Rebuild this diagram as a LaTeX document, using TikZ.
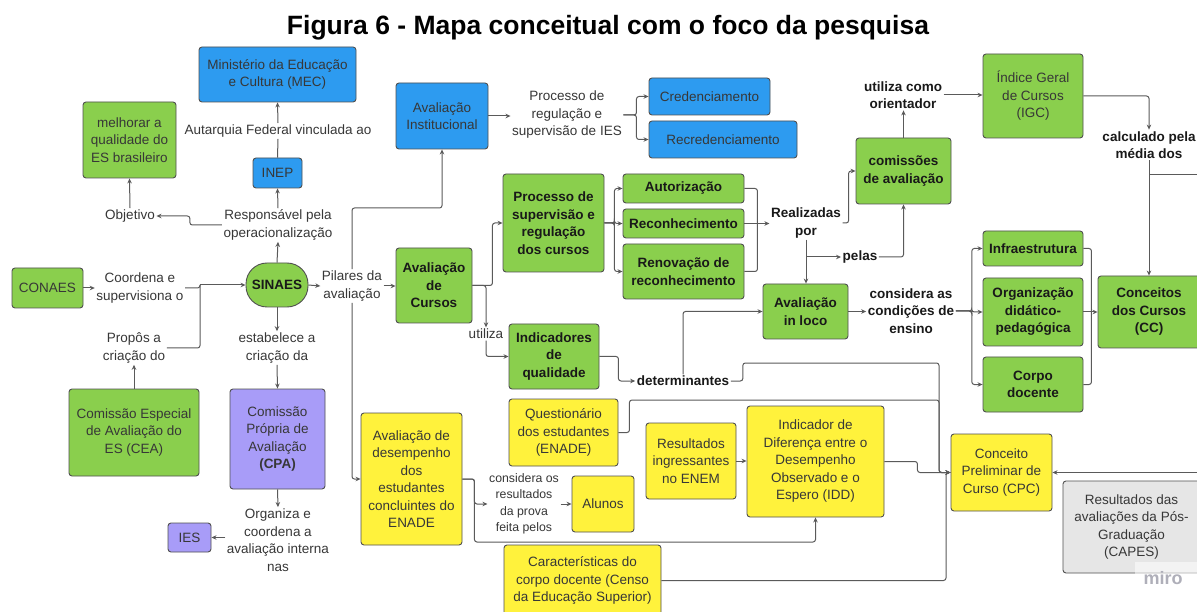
\documentclass[tikz,border=0pt]{standalone}
\usepackage{fontspec}
\setmainfont{Liberation Sans}
\usetikzlibrary{arrows.meta,calc}
\definecolor{cblue}{RGB}{45,155,240}
\definecolor{cgreen}{RGB}{138,207,77}
\definecolor{cyel}{RGB}{255,242,60}
\definecolor{cpur}{RGB}{168,156,248}
\definecolor{cgray}{RGB}{230,230,230}
\definecolor{bord}{RGB}{80,80,80}
\definecolor{lin}{RGB}{90,90,90}
\definecolor{txt}{RGB}{55,55,55}
\definecolor{txtb}{RGB}{25,25,25}
\definecolor{mirocol}{RGB}{175,175,185}
\begin{document}
\begin{tikzpicture}[x=1pt,y=-1pt,
  bx/.style={draw=bord, line width=0.9pt, rounded corners=3pt, align=center, inner sep=2pt, text=txt, font=\fontsize{13.5}{17.5}\selectfont},
  bl/.style={bx, fill=cblue},
  gr/.style={bx, fill=cgreen},
  ye/.style={bx, fill=cyel},
  pu/.style={bx, fill=cpur},
  gy/.style={bx, fill=cgray},
  bfb/.style={font=\fontsize{13.5}{17.5}\selectfont\bfseries, text=txtb},
  sz/.style 2 args={minimum width=#1pt, minimum height=#2pt},
  lab/.style={align=center, inner sep=1.5pt, fill=white, text=txt, font=\fontsize{13.5}{17.5}\selectfont},
  blab/.style={lab, font=\fontsize{13.5}{17.5}\selectfont\bfseries, text=txtb},
  slab/.style={lab, font=\fontsize{12.3}{16.5}\selectfont},
  con/.style={draw=lin, line width=1pt, rounded corners=2.5pt},
  arr/.style={con, -{Stealth[length=5pt,width=4.5pt]}}
]
\useasboundingbox (0,0) rectangle (1197,612);
\fill[white] (0,0) rectangle (1197,612);
\clip (0,0) rectangle (1197,612);

\node[font=\fontsize{26.5}{30}\selectfont\bfseries, text=black] (title) at (608,28) {Figura 6 - Mapa conceitual com o foco da pesquisa};

% boxes
\node[bl, sz={157}{55}] (mec) at (277.5,74.5) {Ministério da Educação\\e Cultura (MEC)};
\node[bl, sz={49}{30}] (inep) at (277.5,173) {INEP};
\node[gr, sz={93}{76}] (mel) at (129.5,140) {melhorar a\\qualidade do\\ES brasileiro};
\node[gr, bfb, sz={62}{44}, rounded corners=21pt] (sinaes) at (277,285) {SINAES};
\node[gr, sz={71}{40}] (conaes) at (47.5,288) {CONAES};
\node[gr, sz={130}{87}] (cea) at (134,432.5) {Comissão Especial\\de Avaliação do\\ES (CEA)};
\node[pu, sz={95}{100}] (cpa) at (277.5,439) {Comissão\\Própria de\\Avaliação\\\textbf{(CPA)}};
\node[pu, sz={43}{29}] (ies) at (189.5,537.5) {IES};
\node[bl, sz={92}{66}] (ai) at (442,116) {Avaliação\\Institucional};
\node[bl, sz={121}{37}] (cred) at (709.5,96.5) {Credenciamento};
\node[bl, sz={148}{37}] (recred) at (723,139.5) {Recredenciamento};
\node[gr, bfb, sz={76}{75}] (ac) at (434,285.5) {Avaliação\\de\\Cursos};
\node[gr, bfb, sz={101}{98}] (ps) at (553.5,223) {Processo de\\supervisão e\\regulação\\dos cursos};
\node[gr, bfb, sz={121}{29}] (aut) at (683.5,188.5) {Autorização};
\node[gr, bfb, sz={121}{29}] (rec) at (683.5,223.5) {Reconhecimento};
\node[gr, bfb, sz={121}{55}] (ren) at (683.5,271.5) {Renovação de\\reconhecimento};
\node[gr, bfb, sz={90}{65}] (ind) at (554,356.5) {Indicadores\\de\\qualidade};
\node[gr, bfb, sz={95}{66}] (com) at (903.5,171) {comissões\\de avaliação};
\node[gr, sz={100}{84}] (igc) at (1033,96) {Índice Geral\\de Cursos\\(IGC)};
\node[gr, bfb, sz={85}{55}] (ail) at (805.5,311.5) {Avaliação\\in loco};
\node[gr, bfb, sz={100}{35}] (infra) at (1033,248.5) {Infraestrutura};
\node[gr, bfb, sz={100}{68}] (org) at (1033,312) {Organização\\didático-\\pedagógica};
\node[gr, bfb, sz={100}{55}] (corpo) at (1033,384.5) {Corpo\\docente};
\node[gr, bfb, sz={102}{72}] (cc) at (1149,312) {Conceitos\\dos Cursos\\(CC)};
\node[ye, sz={101}{132}] (ad) at (411.5,479) {Avaliação de\\desempenho\\dos\\estudantes\\concluintes do\\ENADE};
\node[ye, sz={109}{67}] (q) at (563.5,432.5) {Questionário\\dos estudantes\\(ENADE)};
\node[ye, sz={90}{76}] (ri) at (691,461) {Resultados\\ingressantes\\no ENEM};
\node[ye, sz={137}{111}] (idd) at (815.5,461.5) {Indicador de\\Diferença entre o\\Desempenho\\Observado e o\\Espero (IDD)};
\node[ye, sz={62}{56}] (alunos) at (603,504) {Alunos};
\node[ye, sz={157}{71}] (car) at (582.5,580.5) {Características do\\corpo docente (Censo\\da Educação Superior)};
\node[ye, sz={101}{77}] (cpc) at (1001.5,472.5) {Conceito\\Preliminar de\\Curso (CPC)};
\node[gy, sz={137}{92}] (capes) at (1131.5,527) {Resultados das\\avaliações da Pós-\\Graduação\\(CAPES)};

% labels
\node[lab] (l1) at (278,131) {Autarquia Federal vinculada ao};
\node[lab] (l2) at (278,225) {Responsável pela\\operacionalização};
\node[lab] (l3) at (130,216) {Objetivo};
\node[lab] (l4) at (140,288) {Coordena e\\supervisiona o};
\node[lab] (l5) at (134,348) {Propôs a\\criação do};
\node[lab] (l6) at (277,348) {estabelece a\\criação da};
\node[lab] (l7) at (278,540) {Organiza e\\coordena a\\avaliação interna\\nas};
\node[lab] (l8) at (352,286) {Pilares da\\avaliação};
\node[lab] (l9) at (567,115) {Processo de\\regulação e\\supervisão de IES};
\node[lab] (l10) at (486,334) {utiliza};
\node[blab] (l11) at (683,381) {determinantes};
\node[blab] (l12) at (806,223) {Realizadas\\por};
\node[blab] (l13) at (860,257) {pelas};
\node[blab] (l14) at (903,95) {utiliza como\\orientador};
\node[blab] (l15) at (1149,145) {calculado pela\\média dos};
\node[blab] (l16) at (911,311) {considera as\\condições de\\ensino};
\node[slab] (l17) at (524,504) {considera os\\resultados\\da prova\\feita pelos};

% coordinates
\coordinate (j1) at (200,285);
\coordinate (k1) at (442,208);
\coordinate (k3) at (1200,175);
\coordinate (k4) at (939,363);
\coordinate (k5) at (939,400);
\coordinate (k6) at (946,580.5);
\coordinate (k7) at (1200,472.5);
\coordinate (k8) at (815.5,542);

% connectors
\draw[con] (inep.north) -- (l1.south);
\draw[arr] (l1.north) -- (mec.south);
\draw[arr] (sinaes.north) -- (l2.south);
\draw[arr] (l2.north) -- (inep.south);
\draw[arr] (l2.west) -- ++(-32,0) |- (l3.east);
\draw[arr] (l3.north) -- (mel.south);
\draw[arr] (conaes.east) -- (conaes.east -| l4.west);
\draw[con] (l4.east) -| (j1);
\draw[con] (l5.east) -| (j1);
\draw[arr] (j1) -- (sinaes.west);
\draw[arr] (cea.north) -- (l5.south);
\draw[arr] (sinaes.south) -- (l6.north);
\draw[arr] (l6.south) -- (cpa.north);
\draw[arr] (cpa.south) -- (l7.north);
\draw[arr] (ies.east -| l7.west) -- (ies.east);
\draw[arr] (sinaes.east) -- (l8.west);
\draw[arr] (l8.east) -- (l8.east -| ac.west);
\draw[arr] (l8.north) |- (k1) -- (ai.south);
\draw[arr] (l8.south) |- (ad.west);
\draw[arr] (ai.east) -- (ai.east -| l9.west);
\draw[arr] (l9.east) -- ++(13,0) |- (cred.west);
\draw[arr] (l9.east) -- ++(13,0) |- (recred.west);
\draw[arr] (ac.east) -- ++(20,0) |- (ps.west);
\draw[arr] (ac.east) -| (l10.north);
\draw[arr] (l10.south) |- (ind.west);
\foreach \t in {aut,rec,ren} {\draw[arr] (ps.east) -- ++(10,0) |- (\t.west);}
\draw[con] (aut.east) -- ++(13,0) |- (ren.east);
\draw[arr] (rec.east) -- (rec.east -| l12.west);
\draw[arr] (l12.east) -- ++(6,0) |- (com.west);
\draw[arr] (l12.south) -- (l12.south |- ail.north);
\draw[arr] (l12.south |- l13.west) -- (l13.west);
\draw[arr] (l13.east) -| (com.south);
\draw[arr] (com.north) -- (com.north |- l14.south);
\draw[arr] (l14.east) -- (l14.east -| igc.west);
\draw[arr] (igc.east) -| (l15.north);
\draw[arr] (l15.south) -- (l15.south |- cc.north);
\draw[con] (l15.south |- k3) -- (k3);
\draw[arr] (ail.east) -- (ail.east -| l16.west);
\foreach \t in {infra,org,corpo} {\draw[arr] (l16.east) -- ++(16,0) |- (\t.west);}
\draw[con] (infra.east) -- ++(8,0) |- (corpo.east);
\draw[arr] (org.east) -- (cc.west);
\draw[arr] (ind.east) -- ++(19,0) |- (l11.west);
\draw[arr] (l11.north) |- (ail.west);
\draw[arr] (l11.east) -- ++(12,0) |- (k4) |- (cpc.west);
\draw[arr] (q.east) -- ++(11,0) |- (k5) |- (cpc.west);
\draw[arr] (idd.east) -- ++(33,0) |- (cpc.west);
\draw[arr] (car.east) -- (k6) |- (cpc.west);
\draw[arr] (k7) -- (cpc.east);
\draw[arr] (ri.east) -- (ri.east -| idd.west);
\draw[arr] (ad.east) -- ++(12,0) |- (l17.west);
\draw[arr] (ad.east) -- ++(12,0) |- (k8) -- (idd.south);
\draw[arr] (l17.east) -- (l17.east -| alunos.west);

% watermark
\fill[white, opacity=0.55] (1135,562) rectangle (1197,598);
\node[text=mirocol, font=\fontsize{18}{20}\selectfont\bfseries] (miro) at (1163,578) {miro};
\end{tikzpicture}
\end{document}
